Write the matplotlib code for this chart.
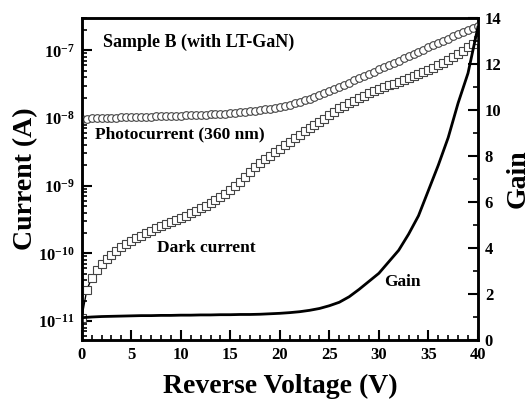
import numpy as np
import matplotlib
matplotlib.use('Agg')
import matplotlib.pyplot as plt
from matplotlib.ticker import MultipleLocator, LogLocator, NullFormatter

plt.rcParams['font.family'] = ['Liberation Serif', 'DejaVu Serif']
plt.rcParams['font.weight'] = 'bold'
plt.rcParams['mathtext.fontset'] = 'custom'
plt.rcParams['mathtext.rm'] = 'Liberation Serif:bold'
plt.rcParams['mathtext.it'] = 'Liberation Serif:bold'
plt.rcParams['mathtext.bf'] = 'Liberation Serif:bold'
plt.rcParams['axes.unicode_minus'] = False

# reverse bias sweep, 0.5 V step
voltage = np.arange(0, 40.5, 0.5)

photo_current = [
    9.71e-9, 9.77e-9, 9.84e-9, 9.90e-9, 9.93e-9, 1.000e-8, 1.007e-8, 1.010e-8,
    1.017e-8, 1.020e-8, 1.028e-8, 1.031e-8, 1.038e-8, 1.042e-8, 1.049e-8, 1.052e-8,
    1.060e-8, 1.064e-8, 1.070e-8, 1.077e-8, 1.084e-8, 1.092e-8, 1.100e-8, 1.107e-8,
    1.115e-8, 1.122e-8, 1.130e-8, 1.142e-8, 1.153e-8, 1.164e-8, 1.178e-8, 1.194e-8,
    1.211e-8, 1.230e-8, 1.250e-8, 1.276e-8, 1.303e-8, 1.334e-8, 1.371e-8, 1.413e-8,
    1.462e-8, 1.517e-8, 1.581e-8, 1.652e-8, 1.734e-8, 1.824e-8, 1.927e-8, 2.04e-8,
    2.17e-8, 2.31e-8, 2.48e-8, 2.66e-8, 2.87e-8, 3.09e-8, 3.33e-8, 3.59e-8,
    3.87e-8, 4.16e-8, 4.49e-8, 4.83e-8, 5.21e-8, 5.61e-8, 6.05e-8, 6.52e-8,
    7.03e-8, 7.57e-8, 8.16e-8, 8.79e-8, 9.47e-8, 1.021e-7, 1.10e-7, 1.186e-7,
    1.277e-7, 1.377e-7, 1.483e-7, 1.60e-7, 1.72e-7, 1.855e-7, 2.00e-7, 2.15e-7,
    2.32e-7,
]

dark_current = [
    1.11e-11, 2.86e-11, 4.30e-11, 5.65e-11, 6.93e-11, 8.20e-11, 9.39e-11, 1.08e-10,
    1.23e-10, 1.37e-10, 1.51e-10, 1.67e-10, 1.82e-10, 1.99e-10, 2.16e-10, 2.36e-10,
    2.52e-10, 2.70e-10, 2.88e-10, 3.09e-10, 3.30e-10, 3.60e-10, 3.92e-10, 4.27e-10,
    4.65e-10, 5.06e-10, 5.50e-10, 6.10e-10, 6.75e-10, 7.46e-10, 8.55e-10, 9.79e-10,
    1.12e-9, 1.33e-9, 1.58e-9, 1.87e-9, 2.14e-9, 2.45e-9, 2.76e-9, 3.11e-9,
    3.50e-9, 3.94e-9, 4.44e-9, 5.00e-9, 5.64e-9, 6.34e-9, 7.03e-9, 7.78e-9,
    8.61e-9, 9.70e-9, 1.09e-8, 1.23e-8, 1.39e-8, 1.51e-8, 1.64e-8, 1.79e-8,
    1.95e-8, 2.12e-8, 2.31e-8, 2.47e-8, 2.64e-8, 2.82e-8, 3.03e-8, 3.18e-8,
    3.35e-8, 3.59e-8, 3.84e-8, 4.11e-8, 4.40e-8, 4.71e-8, 5.04e-8, 5.48e-8,
    5.97e-8, 6.50e-8, 7.08e-8, 7.83e-8, 8.67e-8, 9.77e-8, 1.10e-7, 1.24e-7,
    1.40e-7,
]

gain_voltage = np.arange(0, 41, 1)
gain = [
    0.97, 1.0, 1.02, 1.03, 1.04, 1.05, 1.06, 1.06, 1.07, 1.07,
    1.08, 1.08, 1.09, 1.09, 1.10, 1.10, 1.11, 1.11, 1.12, 1.14,
    1.16, 1.19, 1.23, 1.29, 1.37, 1.49, 1.64, 1.88, 2.2, 2.55,
    2.9, 3.4, 3.9, 4.6, 5.4, 6.5, 7.6, 8.8, 10.3, 11.6,
    13.6,
]

fig = plt.figure(figsize=(5.31, 4.0), dpi=100)
ax = fig.add_axes([0.154, 0.15, 0.746, 0.805])
ax2 = ax.twinx()

ax.plot(voltage, dark_current, '-', color='black', lw=1.0, marker='s', ms=5.5,
        mfc='white', mec='#444444', mew=0.8, zorder=3)
ax.plot(voltage, photo_current, '-', color='black', lw=1.0, marker='o', ms=5.5,
        mfc='white', mec='#444444', mew=0.8, zorder=3)
ax2.plot(gain_voltage, gain, '-', color='black', lw=2.0)

ax.set_yscale('log')
ax.set_xlim(0, 40)
ax.set_ylim(5.24e-12, 3.0e-7)
ax2.set_ylim(0, 14)

ax.xaxis.set_major_locator(MultipleLocator(5))
ax.xaxis.set_minor_locator(MultipleLocator(1))
ax.yaxis.set_major_locator(LogLocator(base=10, numticks=20))
ax.yaxis.set_minor_locator(LogLocator(base=10, subs=np.arange(2, 10), numticks=20))
ax.yaxis.set_minor_formatter(NullFormatter())
ax2.yaxis.set_major_locator(MultipleLocator(2))
ax2.yaxis.set_minor_locator(MultipleLocator(1))

ax.tick_params(axis='both', which='major', direction='in', length=7, width=1.5,
               labelsize=12, top=False, right=False, pad=5)
ax.tick_params(axis='both', which='minor', direction='in', length=3.5, width=1.2,
               top=False, right=False)
ax2.tick_params(axis='y', which='major', direction='in', length=7, width=1.5,
                labelsize=12, pad=5)
ax2.tick_params(axis='y', which='minor', direction='in', length=3.5, width=1.2)

for a in (ax, ax2):
    for s in a.spines.values():
        s.set_linewidth(1.8)

ax.set_xlabel('Reverse Voltage (V)', fontsize=20, fontweight='bold', labelpad=8)
ax.set_ylabel('Current (A)', fontsize=20, fontweight='bold', labelpad=0)
ax2.set_ylabel('Gain', fontsize=20, fontweight='bold', labelpad=3)

ax.text(0.053, 0.925, 'Sample B (with LT-GaN)', transform=ax.transAxes,
        fontsize=13, fontweight='bold', va='center', ha='left')
ax.text(0.033, 0.637, 'Photocurrent (360 nm)', transform=ax.transAxes,
        fontsize=12.5, fontweight='bold', va='center', ha='left')
ax.text(0.189, 0.286, 'Dark current', transform=ax.transAxes,
        fontsize=12.5, fontweight='bold', va='center', ha='left')
ax.text(0.763, 0.180, 'Gain', transform=ax.transAxes,
        fontsize=12.5, fontweight='bold', va='center', ha='left')

fig.savefig('out.png', dpi=100)
